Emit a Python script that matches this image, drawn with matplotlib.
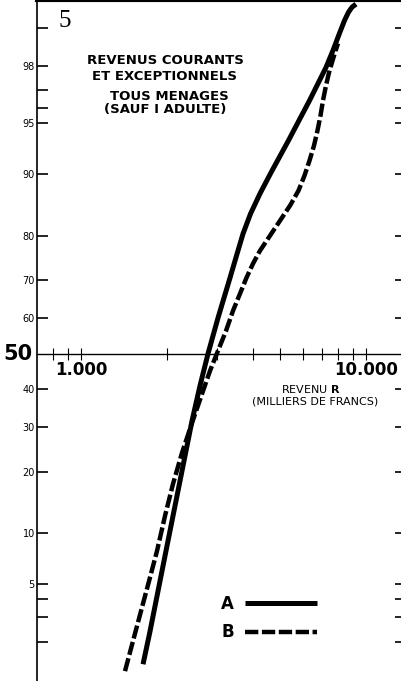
import numpy as np
import matplotlib
matplotlib.use("Agg")
import matplotlib.pyplot as plt
from matplotlib.ticker import FixedLocator, NullFormatter
from statistics import NormalDist

# Courbes (revenu en milliers de francs, % cumule)
revenu_A = [1651, 1747, 1863, 1987, 2137, 2298, 2452, 2616, 2790, 2905,
            3025, 3175, 3333, 3513, 3702, 3933, 4247, 4642, 5115, 5347,
            5820, 6336, 6786, 7239, 7661, 8073, 8406, 8682, 8931, 9224]
pct_A = [1.34, 2.39, 4.52, 7.97, 13.88, 22.2, 31.6, 41.0, 50.0, 55.1,
         60.1, 65.5, 70.6, 75.8, 80.4, 84.1, 87.35, 90.2, 92.65, 93.6,
         95.2, 96.46, 97.31, 97.95, 98.48, 98.89, 99.13, 99.26, 99.33, 99.37]

revenu_B = [1427, 1522, 1624, 1733, 1848, 1971, 2103, 2261, 2452, 2659,
            2836, 3025, 3227, 3415, 3613, 3808, 4013, 4247, 4604, 4992,
            5412, 5797, 6084, 6336, 6570, 6758, 6924, 7065, 7239, 7417,
            7599, 7785, 7976]
pct_B = [1.18, 2.02, 3.32, 5.25, 7.97, 12.36, 17.66, 23.98, 31.1, 38.76,
         45.17, 50.86, 56.5, 62.06, 66.6, 70.64, 73.99, 76.9, 80.03, 82.89,
         85.48, 87.79, 89.82, 91.6, 93.13, 94.44, 95.54, 96.46, 97.22, 97.76,
         98.12, 98.42, 98.66]

y_ticks = [2, 3, 4, 5, 10, 20, 30, 40, 60, 70, 80, 90, 95, 96, 97, 98, 99]
y_labels = ["", "", "", "5", "10", "20", "30", "40", "60", "70", "80",
            "90", "95", "", "", "98", ""]
x_major = [1000, 10000]
x_major_labels = ["1.000", "10.000"]
x_minor = [800, 900, 2000, 3000, 4000, 5000, 6000, 7000, 8000, 9000]

titre = ["REVENUS COURANTS", "ET EXCEPTIONNELS", "TOUS MENAGES", "(SAUF I ADULTE)"]

ND = NormalDist()
_ppf = np.vectorize(ND.inv_cdf, otypes=[float])
_cdf = np.vectorize(ND.cdf, otypes=[float])


def probit(p):
    p = np.clip(np.asarray(p, dtype=float) / 100.0, 1e-9, 1 - 1e-9)
    return _ppf(p)


def inv_probit(z):
    return _cdf(np.asarray(z, dtype=float)) * 100.0


W, H = 401, 681


def fx(x):
    return x / W


def fy(y):
    return 1 - y / H


fig = plt.figure(figsize=(W / 100, H / 100), dpi=100)
ax = fig.add_axes([fx(37), 0, (406 - 37) / W, 1])

ax.set_xscale("log")
ax.set_yscale("function", functions=(probit, inv_probit))
ax.set_xlim(701, 13815)
ax.set_ylim(0.98, 99.42)

ax.plot(revenu_A, pct_A, color="black", lw=3.6, solid_capstyle="butt",
        solid_joinstyle="round", label="A")
ax.plot(revenu_B, pct_B, color="black", lw=3.2, dashes=(3.0, 0.8),
        dash_capstyle="butt", dash_joinstyle="round", label="B")

# axe vertical
ax.set_yticks(y_ticks)
ax.set_yticklabels(y_labels)
ax.tick_params(axis="y", which="major", direction="in", length=8, width=1.2,
               labelsize=7, pad=1.5, left=True, right=True)
ax.yaxis.set_minor_locator(FixedLocator([]))

# axe horizontal place a 50 %
ax.spines["bottom"].set_position(("data", 50))
ax.spines["bottom"].set_linewidth(1.0)
ax.spines["right"].set_visible(False)
ax.spines["left"].set_linewidth(1.2)
ax.spines["top"].set_linewidth(3)
ax.xaxis.set_major_locator(FixedLocator(x_major))
ax.set_xticklabels(x_major_labels)
ax.xaxis.set_minor_locator(FixedLocator(x_minor))
ax.xaxis.set_minor_formatter(NullFormatter())
ax.tick_params(axis="x", which="both", direction="inout", length=9, width=0.8,
               pad=1)
for lab in ax.get_xticklabels():
    lab.set_fontsize(12)
    lab.set_fontweight("bold")

ax.text(-0.012, 50, "50", transform=ax.get_yaxis_transform(), ha="right",
        va="center", fontsize=15, fontweight="bold")

fig.text(fx(65), fy(21), "5", ha="center", va="center", fontsize=18,
         family="Liberation Serif")

for txt, cx, cy in zip(titre, [165, 165, 169, 165], [61, 76, 96, 110]):
    fig.text(fx(cx), fy(cy), txt, ha="center", va="center", fontsize=9.5,
             fontweight="bold")

fig.text(fx(311), fy(389), r"REVENU $\mathbf{R}$", ha="center", va="center",
         fontsize=8)
fig.text(fx(315), fy(402), "(MILLIERS DE FRANCS)", ha="center", va="center",
         fontsize=8)

leg = ax.legend(loc="center", bbox_to_anchor=(fx(269), fy(618)),
                bbox_transform=fig.transFigure, frameon=False,
                markerfirst=False, handlelength=4.3, handletextpad=0.7,
                labelspacing=0.65, borderpad=0,
                prop={"size": 12, "weight": "bold"})

fig.savefig("out.png", dpi=100, facecolor="white")
